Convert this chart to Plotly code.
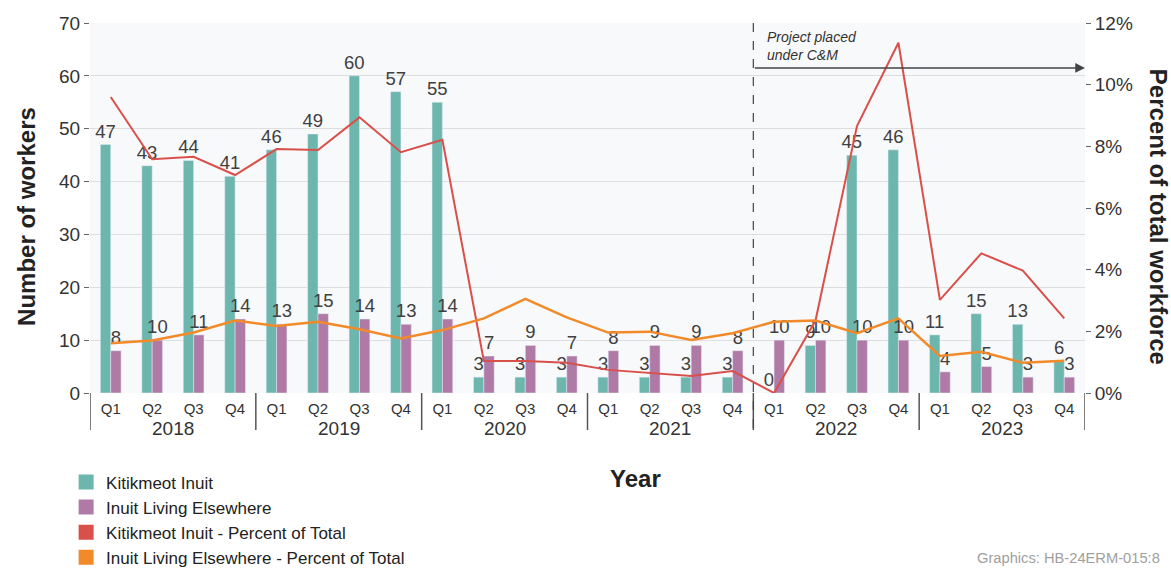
import plotly.graph_objects as go

years = ["2018", "2019", "2020", "2021", "2022", "2023"]
quarters = ["Q1", "Q2", "Q3", "Q4"]
labels = [q for y in years for q in quarters]
idx = list(range(len(labels)))

kitikmeot = [47, 43, 44, 41, 46, 49, 60, 57, 55, 3, 3, 3, 3, 3, 3, 3, 0, 9, 45, 46, 11, 15, 13, 6]
elsewhere = [8, 10, 11, 14, 13, 15, 14, 13, 14, 7, 9, 7, 8, 9, 9, 8, 10, 10, 10, 10, 4, 5, 3, 3]
kit_pct = [9.6, 7.58, 7.66, 7.07, 7.91, 7.88, 8.94, 7.81, 8.21, 1.04, 1.04, 0.98,
           0.75, 0.64, 0.55, 0.71, 0.0, 2.35, 8.66, 11.36, 3.02, 4.53, 3.97, 2.42]
else_pct = [1.61, 1.70, 1.96, 2.35, 2.17, 2.31, 2.07, 1.77, 2.04, 2.42, 3.05, 2.45,
            1.96, 1.99, 1.72, 1.94, 2.31, 2.35, 1.94, 2.42, 1.2, 1.34, 0.98, 1.05]

TEAL = "#6db6ae"
PURPLE = "#b07aa6"
RED = "#d9504a"
ORANGE = "#f28a2a"
FONT = "Liberation Sans, Arial, sans-serif"
TXT = "#404040"

fig = go.Figure()

fig.add_trace(go.Bar(x=idx, y=kitikmeot, marker_color=TEAL, text=kitikmeot,
                     textposition="outside", constraintext="none", cliponaxis=False,
                     textfont=dict(size=18.5, color=TXT), showlegend=False))
fig.add_trace(go.Bar(x=idx, y=elsewhere, marker_color=PURPLE, text=elsewhere,
                     textposition="outside", constraintext="none", cliponaxis=False,
                     textfont=dict(size=18.5, color=TXT), showlegend=False))
fig.add_trace(go.Scatter(x=idx, y=kit_pct, mode="lines", yaxis="y2",
                         line=dict(color=RED, width=2), showlegend=False, cliponaxis=False))
fig.add_trace(go.Scatter(x=idx, y=else_pct, mode="lines", yaxis="y2",
                         line=dict(color=ORANGE, width=2.5), showlegend=False, cliponaxis=False))

# legend entries drawn as squares
legend_items = [("Kitikmeot Inuit", TEAL), ("Inuit Living Elsewhere", PURPLE),
                ("Kitikmeot Inuit - Percent of Total", RED),
                ("Inuit Living Elsewhere - Percent of Total", ORANGE)]
for name, col in legend_items:
    fig.add_trace(go.Scatter(x=[None], y=[None], mode="markers", name=name,
                             marker=dict(symbol="square", size=15, color=col)))

shapes = []
# group dividers under the x axis
for k in range(len(years) + 1):
    shapes.append(dict(type="line", xref="x", yref="paper", x0=k * 4 - 0.5, x1=k * 4 - 0.5,
                       y0=0, y1=-0.1, line=dict(color="#555555", width=1.5)))
# care & maintenance marker
shapes.append(dict(type="line", xref="x", yref="paper", x0=15.5, x1=15.5, y0=1, y1=-0.1,
                   line=dict(color="#444444", width=1.2, dash="dash")))

annotations = []
for i, y in enumerate(years):
    annotations.append(dict(x=i * 4 + 1.5, y=-0.095, xref="x", yref="paper", text=y,
                            showarrow=False, font=dict(size=19, color="#333333"),
                            yanchor="middle"))
TITLE_FONT = dict(size=24, color="#222222")
annotations += [
    dict(x=23.5, y=61.5, xref="x", yref="y", ax=15.5, ay=61.5, axref="x", ayref="y",
         text="", showarrow=True, arrowhead=2, arrowsize=1.3, arrowwidth=1.5,
         arrowcolor="#444444"),
    dict(x=15.5, y=65.7, xref="x", yref="y", xshift=12, xanchor="left", yanchor="middle",
         align="left", showarrow=False, text="<i>Project placed<br>under C&amp;M</i>",
         font=dict(size=14, color="#333333")),
    dict(x=0.548, y=-0.23, xref="paper", yref="paper", text="<b>Year</b>", showarrow=False,
         font=TITLE_FONT, yanchor="middle"),
    dict(x=-0.0633, y=0.476, xref="paper", yref="paper", xanchor="center", yanchor="middle",
         text="<b>Number of workers</b>", textangle=-90, showarrow=False, font=TITLE_FONT),
    dict(x=1.0734, y=0.476, xref="paper", yref="paper", xanchor="center", yanchor="middle",
         text="<b>Percent of total workforce</b>", textangle=90, showarrow=False,
         font=TITLE_FONT),
    dict(x=1.0774, y=-0.446, xref="paper", yref="paper", xanchor="right", yanchor="middle",
         text="Graphics: HB-24ERM-015:8", showarrow=False,
         font=dict(size=14.7, color="#a0a0a0")),
]

fig.update_layout(
    width=1171, height=569,
    margin=dict(l=90, r=86, t=23, b=176, autoexpand=False),
    paper_bgcolor="white", plot_bgcolor="#f8f9fb",
    font=dict(family=FONT, color=TXT),
    barmode="group", bargap=0.5, bargroupgap=0,
    shapes=shapes, annotations=annotations,
    legend=dict(x=-0.024, y=-0.193, xanchor="left", yanchor="top",
                font=dict(size=17, color="#222222"), itemwidth=30,
                bgcolor="rgba(0,0,0,0)", tracegroupgap=0),
    xaxis=dict(range=[-0.5, 23.5], tickvals=idx, ticktext=labels, showgrid=False,
               zeroline=False, ticks="outside", ticklen=2, tickcolor="rgba(0,0,0,0)",
               tickfont=dict(size=15, color="#333333")),
    yaxis=dict(range=[0, 70], dtick=10, showgrid=True, gridcolor="#dedede",
               zeroline=False, ticks="outside", ticklen=5, tickcolor="#666666",
               tickfont=dict(size=19, color="#333333")),
    yaxis2=dict(range=[0, 12], dtick=2, ticksuffix="%", overlaying="y", side="right",
                showgrid=False, zeroline=False, ticks="outside", ticklen=5,
                tickcolor="#666666", tickfont=dict(size=19, color="#333333")),
)

fig.write_html("out.html", config={"displayModeBar": False},
               post_script="document.body.style.margin='0';")
